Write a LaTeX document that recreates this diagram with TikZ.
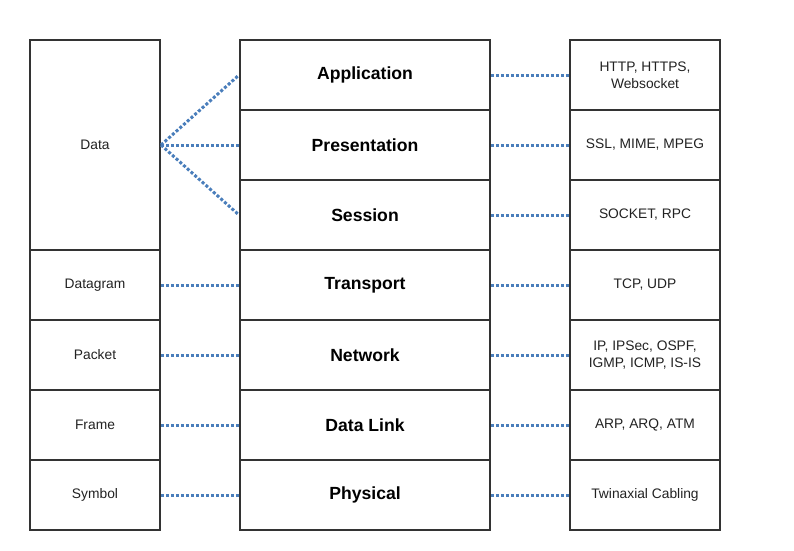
\documentclass[tikz,border=0pt]{standalone}
\usepackage{fontspec}
\setmainfont{Liberation Sans}
\definecolor{linkblue}{RGB}{74,126,187}
\definecolor{boxline}{RGB}{51,51,51}
\definecolor{textgray}{RGB}{34,34,34}
\tikzset{
  cell/.style = {draw=boxline, line width=2pt, fill=white, inner sep=2pt,
                 align=center, text=textgray, font=\fontsize{13.8}{16.5}\selectfont},
  unitbox/.style = {cell, minimum width=130pt, minimum height=70pt},
  layerbox/.style = {cell, minimum width=250pt, minimum height=70pt,
                     text=black, font=\fontsize{17.6}{21}\selectfont\bfseries},
  protobox/.style = {cell, minimum width=150pt, minimum height=70pt},
  link/.style = {draw=linkblue, line width=3pt, dash pattern=on 3pt off 2pt}
}

\begin{document}
\begin{tikzpicture}[x=1pt, y=-1pt]
	\useasboundingbox[fill=white] (0,0) rectangle (794,550);

	% Data units
	\node[unitbox, minimum height=210pt] (data) at (95,145) {Data};
	\node[unitbox] (datagram) at (95,285) {Datagram};
	\node[unitbox] (packet)   at (95,355) {Packet};
	\node[unitbox] (frame)    at (95,425) {Frame};
	\node[unitbox] (symbol)   at (95,495) {Symbol};

	% Layers
	\node[layerbox] (app)       at (365,75)  {Application};
	\node[layerbox] (pres)      at (365,145) {Presentation};
	\node[layerbox] (sess)      at (365,215) {Session};
	\node[layerbox] (trans)     at (365,285) {Transport};
	\node[layerbox] (net)       at (365,355) {Network};
	\node[layerbox] (datalink)  at (365,425) {Data Link};
	\node[layerbox] (phys)      at (365,495) {Physical};

	% Protocols
	\node[protobox] (p_app)   at (645,75)  {HTTP, HTTPS,\\Websocket};
	\node[protobox] (p_pres)  at (645,145) {SSL, MIME, MPEG};
	\node[protobox] (p_sess)  at (645,215) {SOCKET, RPC};
	\node[protobox] (p_trans) at (645,285) {TCP, UDP};
	\node[protobox] (p_net)   at (645,355) {IP, IPSec, OSPF,\\IGMP, ICMP, IS-IS};
	\node[protobox] (p_link)  at (645,425) {ARP, ARQ, ATM};
	\node[protobox] (p_phys)  at (645,495) {Twinaxial Cabling};

	% Unit -- layer links
	\draw[link] (data.east) -- (app.west);
	\draw[link] (data.east) -- (pres.west);
	\draw[link] (data.east) -- (sess.west);
	\draw[link] (datagram.east) -- (trans.west);
	\draw[link] (packet.east)   -- (net.west);
	\draw[link] (frame.east)    -- (datalink.west);
	\draw[link] (symbol.east)   -- (phys.west);

	% Layer -- protocol links
	\draw[link] (app.east)      -- (p_app.west);
	\draw[link] (pres.east)     -- (p_pres.west);
	\draw[link] (sess.east)     -- (p_sess.west);
	\draw[link] (trans.east)    -- (p_trans.west);
	\draw[link] (net.east)      -- (p_net.west);
	\draw[link] (datalink.east) -- (p_link.west);
	\draw[link] (phys.east)     -- (p_phys.west);
\end{tikzpicture}
\end{document}
